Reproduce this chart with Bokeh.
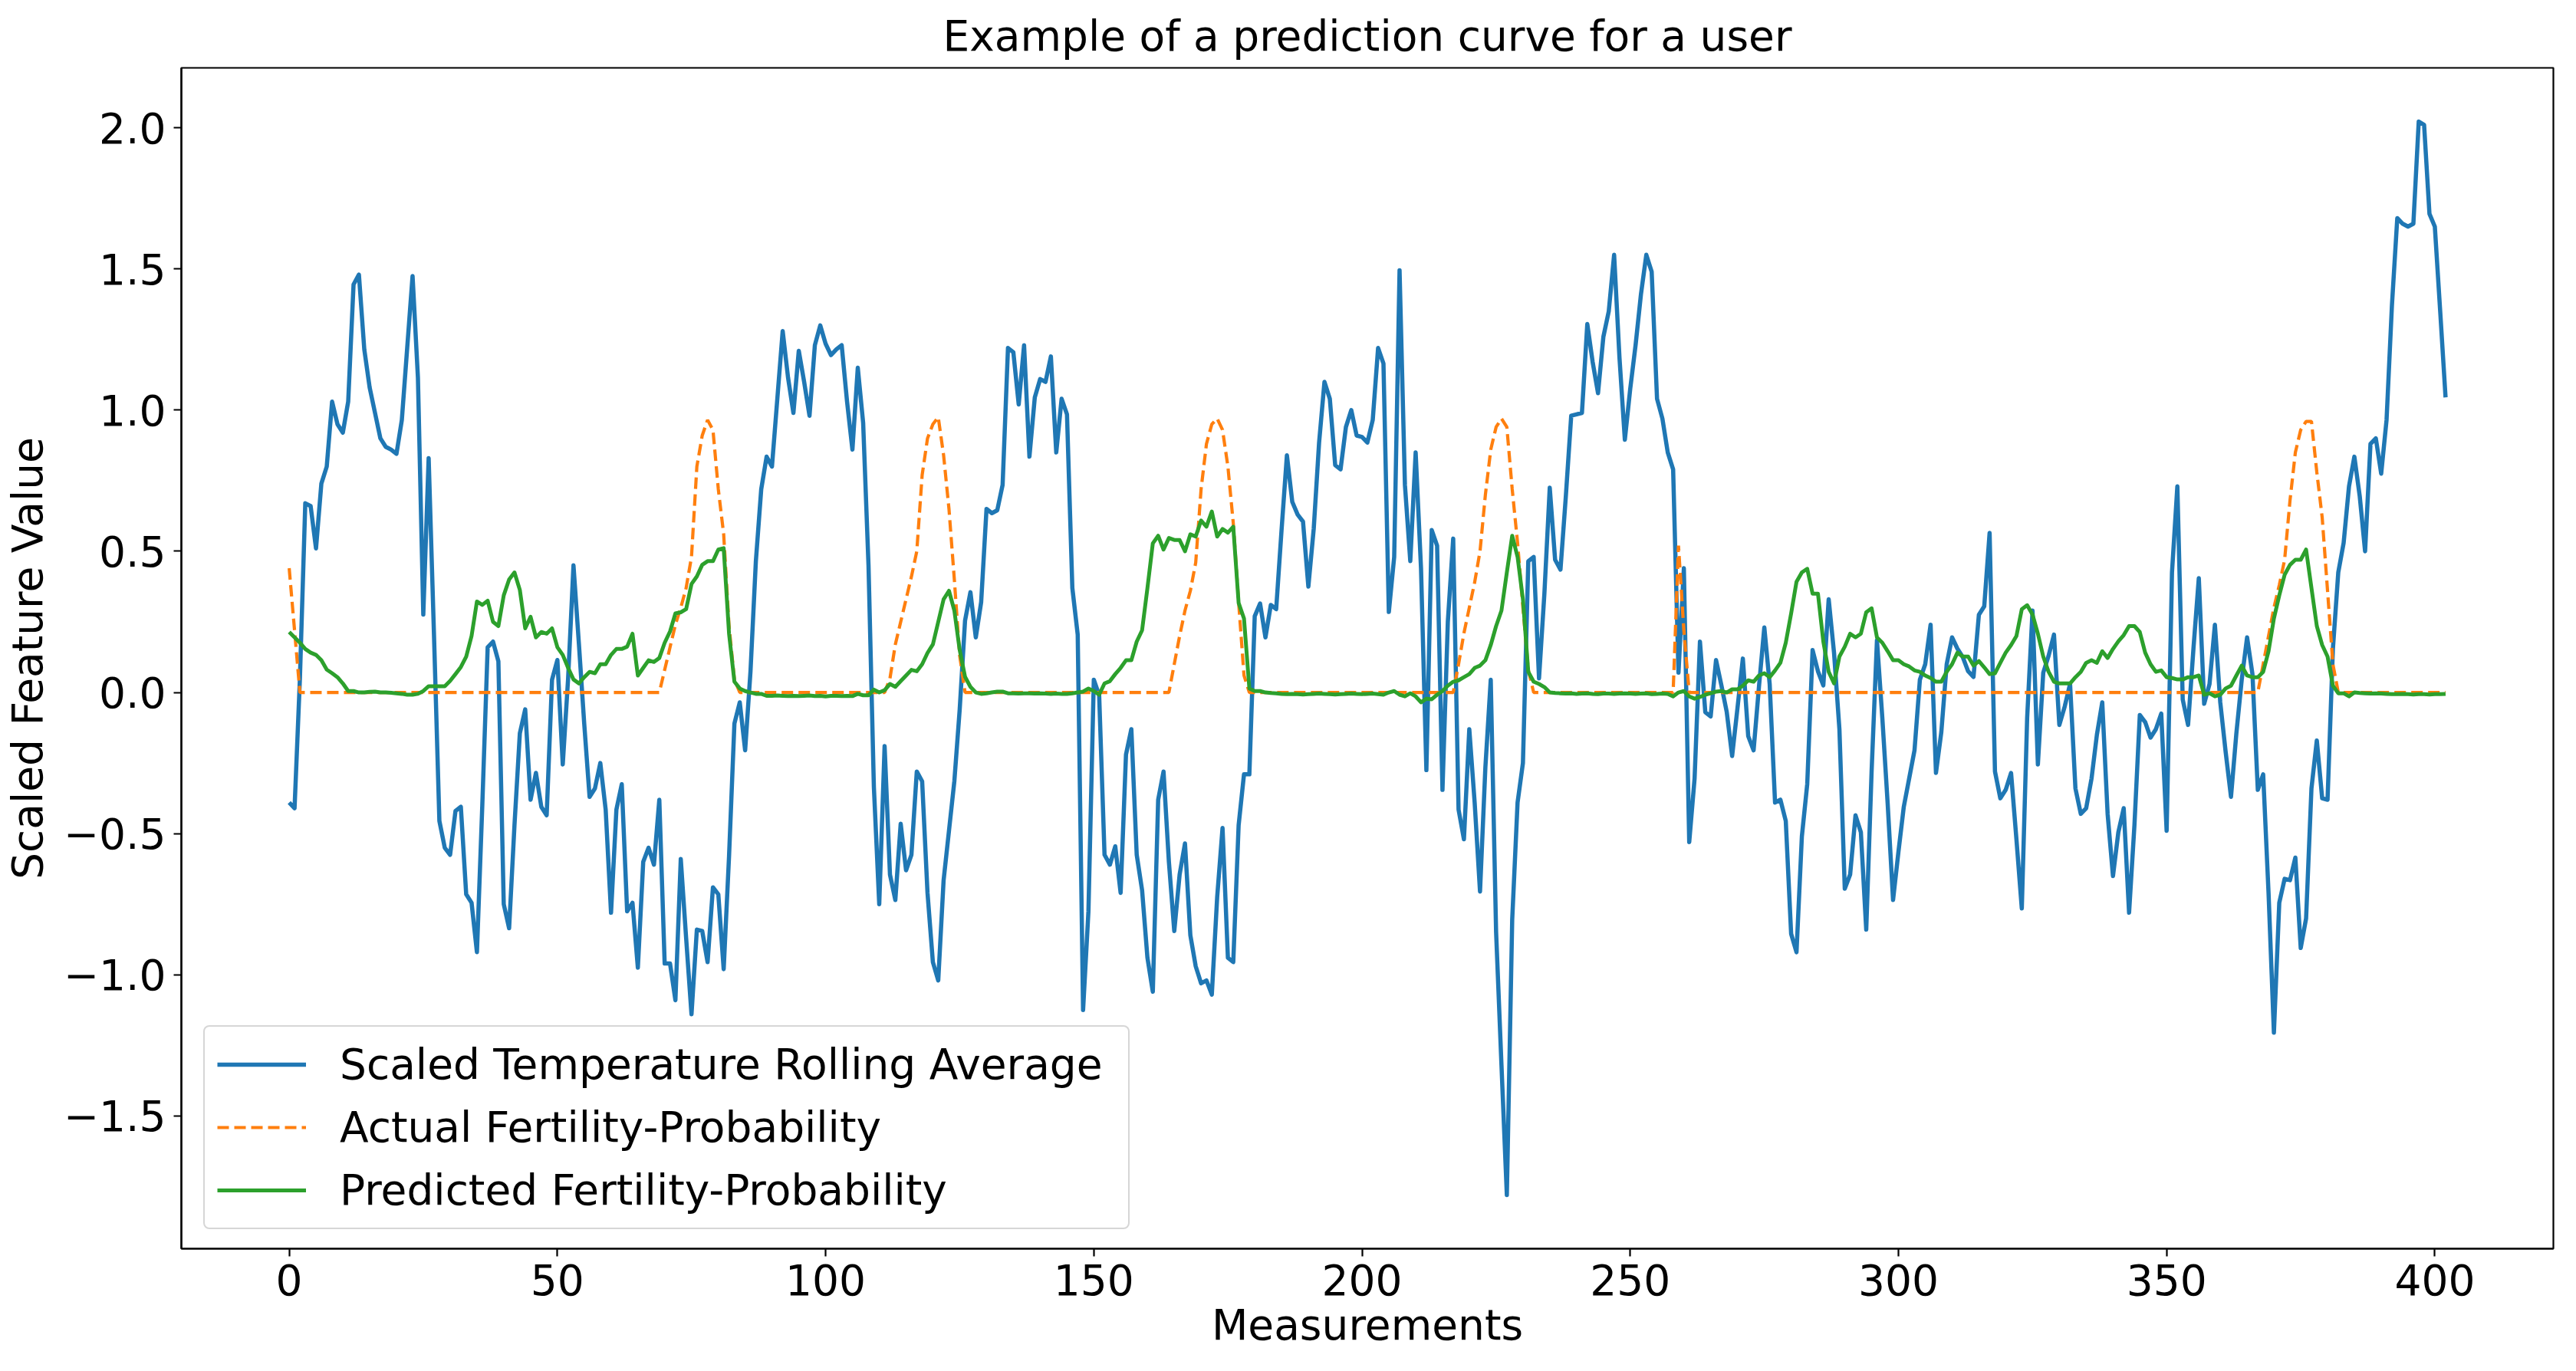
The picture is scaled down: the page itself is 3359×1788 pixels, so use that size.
from bokeh.plotting import figure
from bokeh.models import Legend, LegendItem, FixedTicker, Range1d
from bokeh.embed import file_html
from bokeh.resources import INLINE

title_text = "Example of a prediction curve for a user"
x_label = "Measurements"
y_label = "Scaled Feature Value"
series_names = ["Scaled Temperature Rolling Average",
                "Actual Fertility-Probability",
                "Predicted Fertility-Probability"]

x_ticks = [0, 50, 100, 150, 200, 250, 300, 350, 400]
y_ticks = [-1.5, -1.0, -0.5, 0.0, 0.5, 1.0, 1.5, 2.0]
y_tick_labels = ["\u22121.5", "\u22121.0", "\u22120.5", "0.0", "0.5", "1.0", "1.5", "2.0"]

temperature = [
    -0.39, -0.41, 0.05, 0.67, 0.66, 0.51, 0.74, 0.80, 1.03, 0.95,
    0.92, 1.03, 1.445, 1.48, 1.215, 1.08, 0.99, 0.90, 0.87, 0.86,
    0.845, 0.965, 1.22, 1.475, 1.115, 0.276, 0.83, 0.20, -0.455, -0.55,
    -0.575, -0.42, -0.405, -0.715, -0.745, -0.92, -0.40, 0.16, 0.18, 0.11,
    -0.75, -0.835, -0.47, -0.145, -0.06, -0.38, -0.285, -0.405, -0.435, 0.045,
    0.115, -0.255, 0.05, 0.45, 0.175, -0.11, -0.37, -0.34, -0.25, -0.415,
    -0.78, -0.415, -0.325, -0.775, -0.745, -0.975, -0.60, -0.55, -0.61, -0.38,
    -0.96, -0.96, -1.09, -0.59, -0.87, -1.14, -0.84, -0.845, -0.955, -0.69,
    -0.715, -0.98, -0.58, -0.11, -0.035, -0.205, 0.075, 0.465, 0.72, 0.835,
    0.80, 1.04, 1.28, 1.115, 0.99, 1.21, 1.10, 0.98, 1.23, 1.30,
    1.235, 1.195, 1.215, 1.23, 1.03, 0.86, 1.15, 0.955, 0.45, -0.335,
    -0.75, -0.19, -0.645, -0.735, -0.465, -0.63, -0.575, -0.28, -0.315, -0.71,
    -0.955, -1.02, -0.665, -0.49, -0.315, -0.06, 0.255, 0.355, 0.195, 0.32,
    0.65, 0.635, 0.645, 0.735, 1.22, 1.205, 1.02, 1.23, 0.835, 1.045,
    1.11, 1.10, 1.19, 0.85, 1.04, 0.985, 0.37, 0.205, -1.125, -0.775,
    0.045, -0.01, -0.575, -0.61, -0.545, -0.71, -0.22, -0.13, -0.575, -0.70,
    -0.94, -1.06, -0.38, -0.28, -0.60, -0.845, -0.645, -0.535, -0.86, -0.97,
    -1.03, -1.02, -1.07, -0.725, -0.48, -0.94, -0.955, -0.47, -0.29, -0.29,
    0.27, 0.315, 0.195, 0.31, 0.295, 0.575, 0.84, 0.675, 0.63, 0.605,
    0.375, 0.58, 0.885, 1.10, 1.04, 0.805, 0.79, 0.94, 1.00, 0.91,
    0.905, 0.885, 0.965, 1.22, 1.165, 0.285, 0.48, 1.495, 0.735, 0.465,
    0.85, 0.44, -0.275, 0.575, 0.52, -0.345, 0.25, 0.545, -0.415, -0.52,
    -0.13, -0.39, -0.705, -0.265, 0.045, -0.85, -1.32, -1.78, -0.805, -0.39,
    -0.25, 0.465, 0.48, 0.05, 0.35, 0.725, 0.47, 0.435, 0.695, 0.98,
    0.985, 0.99, 1.305, 1.17, 1.06, 1.26, 1.35, 1.55, 1.185, 0.895,
    1.075, 1.23, 1.41, 1.55, 1.49, 1.04, 0.97, 0.85, 0.79, 0.07,
    0.44, -0.53, -0.305, 0.18, -0.07, -0.085, 0.115, 0.025, -0.07, -0.225,
    -0.055, 0.12, -0.155, -0.205, 0.02, 0.23, 0.03, -0.39, -0.38, -0.455,
    -0.855, -0.92, -0.51, -0.325, 0.15, 0.075, 0.025, 0.33, 0.14, -0.13,
    -0.695, -0.645, -0.435, -0.495, -0.84, -0.28, 0.185, -0.09, -0.395, -0.735,
    -0.565, -0.405, -0.305, -0.205, 0.045, 0.10, 0.24, -0.285, -0.14, 0.10,
    0.195, 0.155, 0.125, 0.075, 0.055, 0.275, 0.305, 0.565, -0.28, -0.375,
    -0.345, -0.285, -0.52, -0.765, -0.09, 0.29, -0.255, 0.07, 0.13, 0.205,
    -0.115, -0.05, 0.03, -0.34, -0.43, -0.41, -0.305, -0.15, -0.035, -0.43,
    -0.65, -0.495, -0.41, -0.78, -0.47, -0.08, -0.105, -0.16, -0.13, -0.075,
    -0.49, 0.425, 0.73, -0.025, -0.115, 0.155, 0.405, -0.04, 0.03, 0.24,
    -0.035, -0.21, -0.37, -0.145, 0.045, 0.195, 0.065, -0.345, -0.29, -0.71,
    -1.205, -0.745, -0.66, -0.665, -0.585, -0.905, -0.80, -0.34, -0.17, -0.375,
    -0.38, 0.155, 0.425, 0.53, 0.73, 0.835, 0.695, 0.50, 0.88, 0.90,
    0.775, 0.965, 1.37, 1.68, 1.66, 1.65, 1.66, 2.022, 2.01, 1.695,
    1.65, 1.35, 1.045,
]

actual = [
    0.44, 0.22, 0, 0, 0, 0, 0, 0, 0, 0,
    0, 0, 0, 0, 0, 0, 0, 0, 0, 0,
    0, 0, 0, 0, 0, 0, 0, 0, 0, 0,
    0, 0, 0, 0, 0, 0, 0, 0, 0, 0,
    0, 0, 0, 0, 0, 0, 0, 0, 0, 0,
    0, 0, 0, 0, 0, 0, 0, 0, 0, 0,
    0, 0, 0, 0, 0, 0, 0, 0, 0, 0,
    0.08, 0.16, 0.24, 0.30, 0.37, 0.48, 0.80, 0.91, 0.965, 0.93,
    0.72, 0.56, 0.235, 0.046, 0, 0, 0, 0, 0, 0,
    0, 0, 0, 0, 0, 0, 0, 0, 0, 0,
    0, 0, 0, 0, 0, 0, 0, 0, 0, 0,
    0, 0, 0.05, 0.17, 0.25, 0.33, 0.41, 0.50, 0.77, 0.90,
    0.95, 0.975, 0.84, 0.65, 0.40, 0.13, 0, 0, 0, 0,
    0, 0, 0, 0, 0, 0, 0, 0, 0, 0,
    0, 0, 0, 0, 0, 0, 0, 0, 0, 0,
    0, 0, 0, 0, 0, 0, 0, 0, 0, 0,
    0, 0, 0, 0, 0, 0.10, 0.20, 0.29, 0.36, 0.46,
    0.72, 0.88, 0.95, 0.97, 0.93, 0.80, 0.60, 0.32, 0.06, 0,
    0, 0, 0, 0, 0, 0, 0, 0, 0, 0,
    0, 0, 0, 0, 0, 0, 0, 0, 0, 0,
    0, 0, 0, 0, 0, 0, 0, 0, 0, 0,
    0, 0, 0, 0, 0, 0, 0, 0, 0.10, 0.21,
    0.30, 0.39, 0.50, 0.70, 0.86, 0.94, 0.97, 0.94, 0.72, 0.53,
    0.30, 0.08, 0, 0, 0, 0, 0, 0, 0, 0,
    0, 0, 0, 0, 0, 0, 0, 0, 0, 0,
    0, 0, 0, 0, 0, 0, 0, 0, 0, 0.52,
    0.22, 0, 0, 0, 0, 0, 0, 0, 0, 0,
    0, 0, 0, 0, 0, 0, 0, 0, 0, 0,
    0, 0, 0, 0, 0, 0, 0, 0, 0, 0,
    0, 0, 0, 0, 0, 0, 0, 0, 0, 0,
    0, 0, 0, 0, 0, 0, 0, 0, 0, 0,
    0, 0, 0, 0, 0, 0, 0, 0, 0, 0,
    0, 0, 0, 0, 0, 0, 0, 0, 0, 0,
    0, 0, 0, 0, 0, 0, 0, 0, 0, 0,
    0, 0, 0, 0, 0, 0, 0, 0, 0, 0,
    0, 0, 0, 0, 0, 0, 0, 0, 0, 0,
    0, 0, 0, 0, 0, 0, 0, 0, 0.10, 0.20,
    0.30, 0.38, 0.47, 0.68, 0.85, 0.93, 0.96, 0.96, 0.78, 0.62,
    0.36, 0.10, 0, 0, 0, 0, 0, 0, 0, 0,
    0, 0, 0, 0, 0, 0, 0, 0, 0, 0,
    0, 0, 0,
]

predicted = [
    0.214, 0.195, 0.176, 0.154, 0.141, 0.133, 0.114, 0.081, 0.068, 0.054,
    0.032, 0.005, 0.005, 0.0, 0.0, 0.002, 0.003, 0.0, 0.0, -0.001,
    -0.003, -0.005, -0.008, -0.008, -0.005, 0.005, 0.022, 0.022, 0.022, 0.022,
    0.041, 0.065, 0.09, 0.127, 0.2, 0.322, 0.31, 0.325, 0.25, 0.235,
    0.344, 0.4, 0.425, 0.363, 0.227, 0.268, 0.195, 0.214, 0.208, 0.227,
    0.16, 0.133, 0.087, 0.046, 0.032, 0.054, 0.073, 0.068, 0.1, 0.1,
    0.133, 0.154, 0.154, 0.162, 0.208, 0.06, 0.087, 0.114, 0.108, 0.122,
    0.176, 0.216, 0.28, 0.284, 0.295, 0.384, 0.411, 0.452, 0.465, 0.465,
    0.506, 0.511, 0.208, 0.038, 0.014, 0.005, 0.0, -0.005, -0.005, -0.012,
    -0.012, -0.011, -0.012, -0.013, -0.012, -0.013, -0.012, -0.011, -0.013, -0.012,
    -0.014, -0.012, -0.012, -0.013, -0.012, -0.013, -0.005, -0.01, -0.01, 0.01,
    0.0, 0.008, 0.03, 0.02, 0.04, 0.06, 0.08, 0.075, 0.1, 0.14,
    0.17, 0.25, 0.33, 0.36, 0.29, 0.15, 0.055, 0.02, 0.0, -0.005,
    -0.003, 0.0, 0.003, 0.003, -0.003, -0.003, -0.004, -0.003, -0.003, -0.004,
    -0.003, -0.004, -0.005, -0.004, -0.005, -0.005, -0.003, 0.0, 0.003, 0.014,
    0.005, -0.008, 0.032, 0.04, 0.065, 0.087, 0.114, 0.114, 0.18, 0.22,
    0.37, 0.528, 0.555, 0.506, 0.547, 0.54, 0.54, 0.5, 0.56, 0.552,
    0.609, 0.587, 0.641, 0.552, 0.579, 0.566, 0.587, 0.317, 0.262, 0.014,
    0.005, 0.005, 0.0, -0.002, -0.003, -0.005, -0.006, -0.005, -0.006, -0.007,
    -0.006, -0.005, -0.004, -0.005, -0.006, -0.007, -0.006, -0.005, -0.004, -0.005,
    -0.006, -0.005, -0.004, -0.006, -0.008, 0.0, 0.005, -0.008, -0.014, -0.003,
    -0.014, -0.035, -0.022, -0.024, -0.008, 0.005, 0.024, 0.038, 0.043, 0.054,
    0.065, 0.087, 0.095, 0.114, 0.168, 0.235, 0.29, 0.425, 0.555, 0.48,
    0.33, 0.073, 0.038, 0.03, 0.019, 0.0, -0.002, -0.003, -0.004, -0.003,
    -0.005, -0.004, -0.003, -0.005, -0.006, -0.004, -0.004, -0.005, -0.004, -0.003,
    -0.004, -0.005, -0.004, -0.003, -0.006, -0.005, -0.004, -0.005, -0.014, 0.0,
    0.005, -0.014, -0.022, -0.016, -0.008, -0.003, 0.003, 0.005, 0.0, 0.011,
    0.011, 0.024, 0.043, 0.038, 0.06, 0.068, 0.054, 0.078, 0.105, 0.176,
    0.28, 0.392, 0.425, 0.438, 0.35, 0.35, 0.18, 0.073, 0.032, 0.127,
    0.162, 0.208, 0.195, 0.208, 0.284, 0.298, 0.195, 0.176, 0.146, 0.114,
    0.114, 0.1, 0.092, 0.078, 0.073, 0.06, 0.051, 0.038, 0.038, 0.073,
    0.1, 0.141, 0.127, 0.127, 0.095, 0.111, 0.089, 0.065, 0.068, 0.105,
    0.141, 0.168, 0.2, 0.295, 0.309, 0.276, 0.208, 0.127, 0.073, 0.038,
    0.032, 0.032, 0.032, 0.054, 0.073, 0.105, 0.114, 0.105, 0.146, 0.122,
    0.154, 0.181, 0.203, 0.235, 0.235, 0.214, 0.141, 0.1, 0.073, 0.078,
    0.054, 0.051, 0.046, 0.046, 0.054, 0.054, 0.06, -0.008, -0.003, -0.014,
    -0.008, 0.014, 0.024, 0.06, 0.095, 0.06, 0.054, 0.054, 0.073, 0.146,
    0.262, 0.344, 0.417, 0.452, 0.47, 0.47, 0.506, 0.37, 0.235, 0.168,
    0.127, 0.024, -0.003, -0.003, -0.014, 0.0, -0.002, -0.003, -0.004, -0.003,
    -0.004, -0.005, -0.006, -0.006, -0.005, -0.006, -0.007, -0.006, -0.006, -0.007,
    -0.006, -0.006, -0.005,
]

measurement = list(range(len(temperature)))

FONT = "DejaVu Sans"
FS = "55px"

# data extents with 5% padding, as in the reference
ymin = min(min(temperature), min(actual), min(predicted))
ymax = max(max(temperature), max(actual), max(predicted))
ypad = 0.05 * (ymax - ymin)
xpad = 0.05 * (measurement[-1] - measurement[0])

p = figure(width=3343, height=1784, output_backend="svg", toolbar_location=None,
           x_range=Range1d(measurement[0] - xpad, measurement[-1] + xpad),
           y_range=Range1d(ymin - ypad, ymax + ypad),
           min_border_left=230, min_border_right=14, min_border_top=88,
           min_border_bottom=156, title=title_text)

p.title.text_font = FONT
p.title.text_font_size = FS
p.title.text_font_style = "normal"
p.title.text_color = "black"
p.title.align = "center"
p.title.standoff = 20

p.xgrid.visible = False
p.ygrid.visible = False
p.outline_line_color = "black"
p.outline_line_width = 2.2

for ax in (p.xaxis[0], p.yaxis[0]):
    ax.major_label_text_font = FONT
    ax.major_label_text_font_size = FS
    ax.major_label_text_color = "black"
    ax.axis_label_text_font = FONT
    ax.axis_label_text_font_size = FS
    ax.axis_label_text_font_style = "normal"
    ax.axis_label_text_color = "black"
    ax.major_tick_out = 10
    ax.major_tick_in = 0
    ax.major_tick_line_width = 2.2
    ax.major_tick_line_color = "black"
    ax.minor_tick_line_color = None
    ax.axis_line_width = 2.2
    ax.axis_line_color = "black"
    ax.major_label_standoff = 10

p.xaxis.ticker = FixedTicker(ticks=x_ticks)
p.yaxis.ticker = FixedTicker(ticks=y_ticks)
p.yaxis.major_label_overrides = {t: l for t, l in zip(y_ticks, y_tick_labels)}
p.xaxis.axis_label = x_label
p.yaxis.axis_label = y_label
p.xaxis.axis_label_standoff = 4
p.yaxis.axis_label_standoff = 12

r1 = p.line(measurement, temperature, line_color="#1f77b4", line_width=5.5, line_join="round")
r2 = p.line(measurement, actual, line_color="#ff7f0e", line_width=4.2, line_dash="15 7")
r3 = p.line(measurement, predicted, line_color="#2ca02c", line_width=5.0, line_join="round")

legend = Legend(items=[LegendItem(label=series_names[0], renderers=[r1]),
                       LegendItem(label=series_names[1], renderers=[r2]),
                       LegendItem(label=series_names[2], renderers=[r3])],
                location=(29, 25))
legend.label_text_font = FONT
legend.label_text_font_size = FS
legend.label_text_color = "black"
legend.glyph_width = 116
legend.glyph_height = 66
legend.label_height = 66
legend.label_width = 1012
legend.label_standoff = 44
legend.padding = 16
legend.spacing = 16
legend.margin = 0
legend.border_line_color = "#cccccc"
legend.border_line_width = 2.8
legend.border_line_alpha = 0.8
legend.background_fill_color = "white"
legend.background_fill_alpha = 0.8
if "border_radius" in legend.properties():
    legend.border_radius = 8
p.add_layout(legend, "center")

open("out.html", "w").write(file_html(p, INLINE))
